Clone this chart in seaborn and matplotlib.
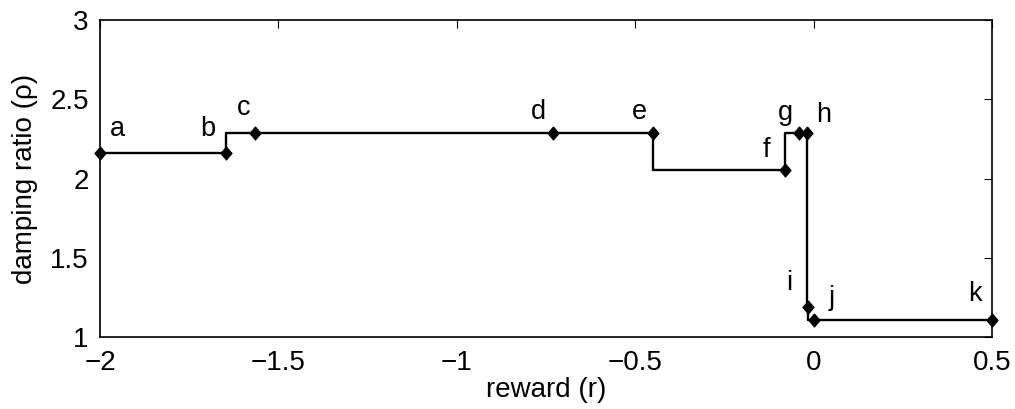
import matplotlib
matplotlib.use("Agg")
import matplotlib.pyplot as plt
import seaborn as sns
import pandas as pd

labels = ["a", "b", "c", "d", "e", "f", "g", "h", "i", "j", "k"]
reward = [-2.0, -1.648, -1.565, -0.73, -0.449, -0.081, -0.041, -0.02, -0.015, 0.0, 0.5]
damping = [2.163, 2.163, 2.287, 2.287, 2.289, 2.054, 2.289, 2.289, 1.19, 1.11, 1.11]
# label offsets in pixels (dx, dy up)
offsets = [(17, 24), (-18, 24), (-12, 25), (-15, 21), (-14, 21), (-18, 20),
           (-14, 20), (17, 18), (-19, 24), (18, 22), (-17, 26)]
xticks = [-2, -1.5, -1, -0.5, 0, 0.5]
yticks = [1, 1.5, 2, 2.5, 3]

sns.set_theme(style="white")
plt.rcParams['font.family'] = ['Liberation Sans', 'DejaVu Sans']
plt.rcParams['axes.unicode_minus'] = True

df = pd.DataFrame({"reward": reward, "damping": damping})

fig = plt.figure(figsize=(10.15, 4.09), dpi=100)
ax = fig.add_axes([0.0985, 0.176, 0.879, 0.775])

diamond = [(0, 1), (0.85, 0), (0, -1), (-0.85, 0), (0, 1)]
sns.lineplot(data=df, x="reward", y="damping", ax=ax, color="black",
             linewidth=1.7, drawstyle="steps-pre", marker=diamond,
             markersize=9.5, markerfacecolor="black", markeredgecolor="black",
             sort=False, clip_on=False, zorder=5)

for lab, x, y, (dx, dy) in zip(labels, reward, damping, offsets):
    ax.annotate(lab, (x, y), xytext=(dx * 0.72, dy * 0.72), textcoords="offset points",
                ha="center", va="center", fontsize=19.5, color="black")

ax.set_xlim(-2, 0.5)
ax.set_ylim(1, 3)
ax.set_xticks(xticks)
ax.set_yticks(yticks)
ax.set_xticklabels([("%g" % t).replace("-", "\u2212") for t in xticks])
ax.set_yticklabels(["%g" % t for t in yticks])
ax.tick_params(direction="in", length=6, width=0.8, top=True, right=True,
               labelsize=20, colors="black", pad=8)
ax.tick_params(axis="x", pad=9)
for s in ax.spines.values():
    s.set_color("black")
    s.set_linewidth(1.2)
ax.set_xlabel("reward (r)", fontsize=20, color="black", labelpad=1)
ax.set_ylabel("damping ratio (\u03c1)", fontsize=20, color="black", labelpad=9)
ax.grid(False)

fig.savefig("out.png", dpi=100)
